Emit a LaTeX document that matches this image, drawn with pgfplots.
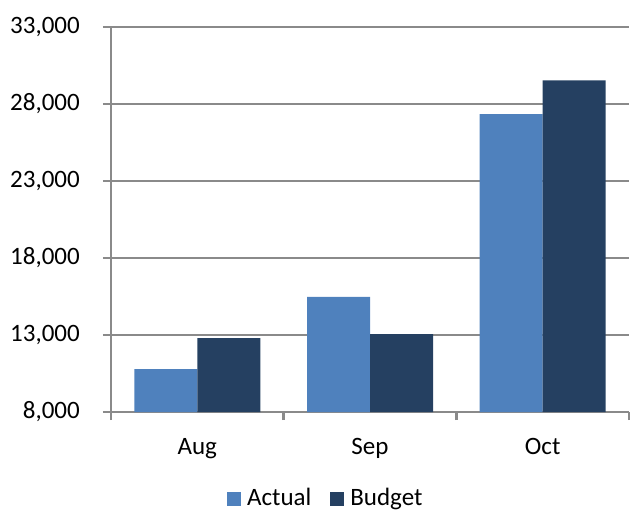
\documentclass[border=0pt]{standalone}
\usepackage{fontspec}
\setmainfont{Carlito}
\usepackage{pgfplots}
\pgfplotsset{compat=1.18}
\definecolor{actual}{HTML}{4F81BD}
\definecolor{budget}{HTML}{254061}
\definecolor{gridgray}{HTML}{8A8A8A}
\begin{document}
\fontsize{25bp}{30bp}\selectfont
\begin{tikzpicture}
\useasboundingbox (-111bp,-100bp) rectangle (520bp,412bp);
\begin{axis}[
  at={(0,0)}, anchor=south west,
  scale only axis, width=518bp, height=385bp,
  xmin=-0.5, xmax=2.5, ymin=8000, ymax=33000,
  ybar=0pt, bar width=63bp,
  xtick={0,1,2}, xticklabels={Aug,Sep,Oct},
  major x tick style={draw=none},
  extra x ticks={-0.5,0.5,1.5,2.5},
  extra x tick labels={},
  extra x tick style={grid=none, major x tick style={draw=gridgray, line width=2.5bp}},
  ytick={8000,13000,18000,23000,28000,33000},
  ymajorgrids,
  grid style={gridgray, line width=2.5bp},
  axis x line*=bottom, axis y line*=left,
  axis line style={gridgray, line width=2.5bp, -},
  tick style={gridgray, line width=2.5bp},
  tick align=outside,
  major tick length=8bp,
  scaled y ticks=false,
  /pgf/number format/1000 sep={,},
  /pgf/number format/assume math mode=true,
  ticklabel style={font=\fontsize{25bp}{30bp}\selectfont, text=black},
  yticklabel style={inner sep=0pt, xshift=-23bp},
  xticklabel style={inner sep=0pt, yshift=-18bp},
  legend columns=2,
  legend style={draw=none, fill=none, at={(0.218,-0.226)}, anchor=west,
    font=\fontsize{25bp}{30bp}\selectfont,
    /tikz/every even column/.append style={column sep=17bp}},
  legend image code/.code={\fill[#1] (0bp,-7bp) rectangle (14bp,7bp); \path (18bp,0bp);},
]
\addplot[fill=actual, draw=none] coordinates {(0,10780) (1,15480) (2,27350)};
\addplot[fill=budget, draw=none] coordinates {(0,12790) (1,13050) (2,29540)};
\legend{Actual,Budget}
\end{axis}
\end{tikzpicture}
\end{document}
